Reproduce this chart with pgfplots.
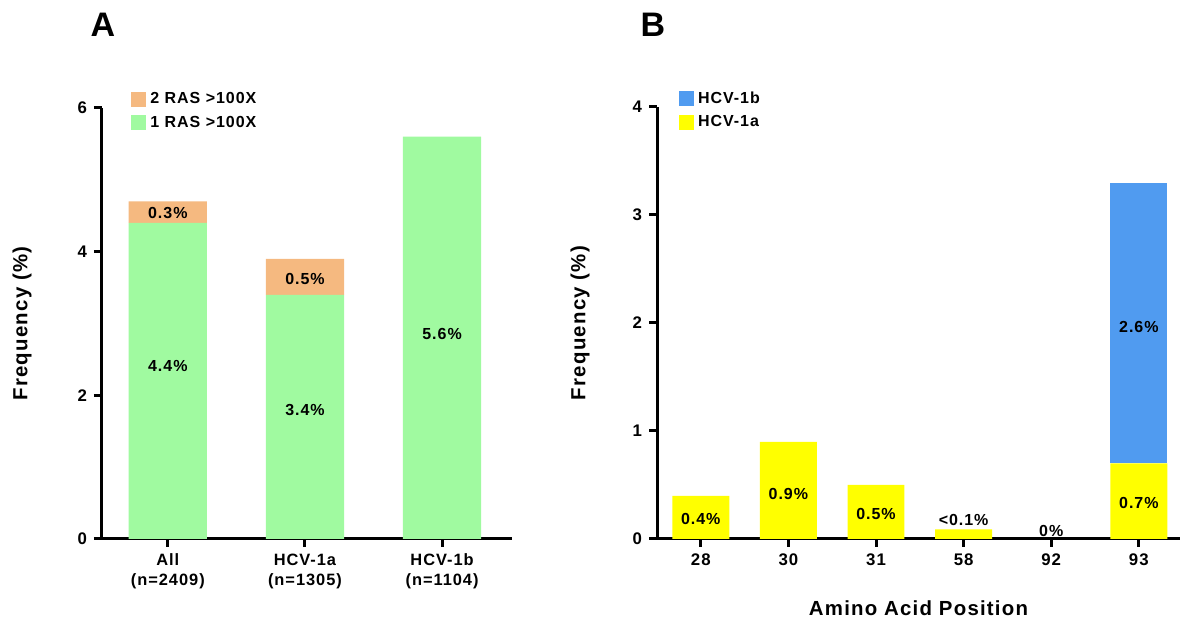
\documentclass[border=0pt]{standalone}
\usepackage{pgfplots}
\pgfplotsset{compat=1.18}
\usepackage{fontspec}
\setmainfont{Liberation Sans}
\newfontfamily\spf[LetterSpace=6]{Liberation Sans}
\definecolor{cgreen}{RGB}{160,250,160}
\definecolor{corange}{RGB}{245,185,128}
\definecolor{cblue}{RGB}{80,155,240}
\definecolor{cyellow}{RGB}{255,255,0}
\tikzset{lab/.style={font=\spf\bfseries\fontsize{8}{9}\selectfont}}
\pgfplotsset{
  panel/.style={
    scale only axis,
    axis lines=left,
    axis line style={line width=1.5pt,-},
    tick style={line width=1.5pt,black},
    major tick length=4pt,
    tick align=outside,
    ymin=0,
    ybar stacked,
    bar shift=0pt,
    xtick=data,
    /pgf/number format/assume math mode=true,
    ticklabel style={font=\spf\bfseries\fontsize{8.4}{10}\selectfont},
    label style={font=\spf\bfseries\fontsize{10.2}{12}\selectfont},
    legend style={draw=none,fill=none,anchor=north west,font=\spf\bfseries\fontsize{8}{9}\selectfont,row sep=0.6pt,
      /tikz/every even column/.append style={column sep=2pt}},
    legend cell align=left,
    reverse legend,
    legend image code/.code={\fill[##1] (0pt,-3.5pt) rectangle (7.5pt,4pt);},
  }
}
\begin{document}
\begin{tikzpicture}
\path[use as bounding box] (0,0) rectangle (591.5pt,312pt);
\node[font=\bfseries\fontsize{17}{20}\selectfont] at (51.5pt,299.5pt) {A};
\node[font=\bfseries\fontsize{17}{20}\selectfont] at (326.5pt,299.5pt) {B};
% Panel A
\begin{axis}[panel,
  at={(51pt,42.5pt)}, anchor=south west,
  width=205pt, height=215.5pt,
  xmin=-0.48, xmax=2.51, ymax=6,
  ytick={0,2,4,6},
  bar width=0.57,
  xticklabels={All\\(n=2409),HCV-1a\\(n=1305),HCV-1b\\(n=1104)},
  xticklabel style={align=center,font=\spf\bfseries\fontsize{8.2}{10}\selectfont},
  ylabel={Frequency (\%)},
  ylabel style={at={(axis description cs:-0.195,0.5)},anchor=center},
  legend style={at={(0.056,1.055)}},
]
\addplot[fill=cgreen,draw=none] coordinates {(0,4.4) (1,3.4) (2,5.6)};
\addlegendentry{1 RAS >100X}
\addplot[fill=corange,draw=none] coordinates {(0,0.3) (1,0.5) (2,0)};
\addlegendentry{2 RAS >100X}
\end{axis}
\begin{axis}[scale only axis, hide axis,
  at={(51pt,42.5pt)}, anchor=south west,
  width=205pt, height=215.5pt,
  xmin=-0.48, xmax=2.51, ymin=0, ymax=6]
\node[lab] at (axis cs:0,2.41) {4.4\%};
\node[lab] at (axis cs:0,4.54) {0.3\%};
\node[lab] at (axis cs:1,1.80) {3.4\%};
\node[lab] at (axis cs:1,3.62) {0.5\%};
\node[lab] at (axis cs:2,2.85) {5.6\%};
\end{axis}
% Panel B
\begin{axis}[panel,
  at={(328.5pt,42.5pt)}, anchor=south west,
  width=261.5pt, height=216pt,
  xmin=-0.5, xmax=5.47, ymax=4,
  ytick={0,1,2,3,4},
  bar width=0.65,
  xticklabels={28,30,31,58,92,93},
  ylabel={Frequency (\%)},
  ylabel style={at={(axis description cs:-0.147,0.5)},anchor=center},
  xlabel={Amino Acid Position},
  xlabel style={at={(axis description cs:0.5,-0.16)},anchor=center},
  legend style={at={(0.03,1.055)}},
]
\addplot[fill=cyellow,draw=none] coordinates {(0,0.4) (1,0.9) (2,0.5) (3,0.09) (4,0) (5,0.7)};
\addlegendentry{HCV-1a}
\addplot[fill=cblue,draw=none] coordinates {(0,0) (1,0) (2,0) (3,0) (4,0) (5,2.6)};
\addlegendentry{HCV-1b}
\end{axis}
\begin{axis}[scale only axis, hide axis,
  at={(328.5pt,42.5pt)}, anchor=south west,
  width=261.5pt, height=216pt,
  xmin=-0.5, xmax=5.47, ymin=0, ymax=4]
\node[lab] at (axis cs:0,0.185) {0.4\%};
\node[lab] at (axis cs:1,0.42) {0.9\%};
\node[lab] at (axis cs:2,0.23) {0.5\%};
\node[lab] at (axis cs:3,0.18) {<0.1\%};
\node[lab] at (axis cs:4,0.075) {0\%};
\node[lab] at (axis cs:5,0.33) {0.7\%};
\node[lab] at (axis cs:5,1.96) {2.6\%};
\end{axis}
\end{tikzpicture}
\end{document}
